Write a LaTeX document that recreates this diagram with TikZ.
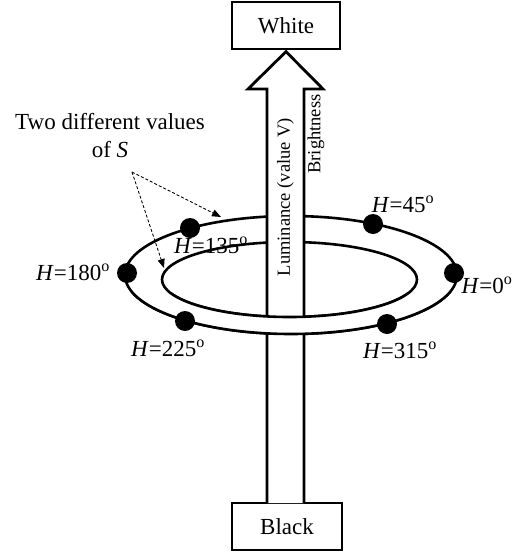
\documentclass[tikz,border=0pt]{standalone}
\usepackage{fontspec}
\setmainfont{Liberation Serif}
\usetikzlibrary{arrows.meta}
\begin{document}
\begin{tikzpicture}[x=1pt,y=-1pt,
  box/.style={draw, line width=1.3pt, minimum width=108pt, minimum height=47pt, inner sep=0pt, font=\fontsize{23}{27}\selectfont},
  lab/.style={font=\fontsize{23}{28}\selectfont, inner sep=0pt},
  vlab/.style={font=\fontsize{18.5}{22}\selectfont, inner sep=0pt, rotate=90},
  ring/.style={line width=2.6pt},
  dot/.style={circle, fill=black, minimum size=20pt, inner sep=0pt},
  shaft/.style={line width=2.8pt, line join=miter},
  dasharrow/.style={line width=0.9pt, dash pattern=on 3pt off 2pt, -{Triangle[length=9pt,width=7pt]}}
]
\useasboundingbox (0,0) rectangle (531,552);

% end boxes
\node[box] (white) at (286,25.5) {White};
\node[box, minimum width=110pt] (black) at (287,526.5) {Black};

% rings
\draw[ring] (291,275) ellipse [x radius=166pt, y radius=59pt];
\draw[ring] (289.5,279.5) ellipse [x radius=127.5pt, y radius=37.5pt];

% arrow shaft from Black to White
\filldraw[shaft, fill=white] (267,503) -- (267,89) -- (248,89) -- ([yshift=-2pt]white.south) -- (323,89) -- (304,89) -- (304,503);

% front (lower) half of the ring band, in front of the shaft
\begin{scope}
  \clip (100,292) rectangle (480,345);
  \fill[white, even odd rule] (291,275) ellipse [x radius=166pt, y radius=59pt]
        (289.5,279.5) ellipse [x radius=127.5pt, y radius=37.5pt];
  \draw[ring] (291,275) ellipse [x radius=166pt, y radius=59pt];
  \draw[ring] (289.5,279.5) ellipse [x radius=127.5pt, y radius=37.5pt];
\end{scope}

% texts on the shaft
\node[vlab] (lum) at (285.5,197) {Luminance (value V)};
\node[vlab] (bri) at (316,134) {Brightness};

% hue dots
\node[dot] (d0) at (454,273) {};
\node[dot] (d45) at (373,224) {};
\node[dot] (d135) at (190,228) {};
\node[dot] (d180) at (127,273) {};
\node[dot] (d225) at (185,321) {};
\node[dot] (d315) at (387,324) {};

% hue labels
\node[lab] (l0) at (487,285) {\textit{H}=0\textsuperscript{o}};
\node[lab] (l45) at (403,204) {\textit{H}=45\textsuperscript{o}};
\node[lab] (l135) at (211,245) {\textit{H}=135\textsuperscript{o}};
\node[lab] (l180) at (73,272) {\textit{H}=180\textsuperscript{o}};
\node[lab] (l225) at (168,348) {\textit{H}=225\textsuperscript{o}};
\node[lab] (l315) at (400,350) {\textit{H}=315\textsuperscript{o}};

% saturation note
\node[lab, align=center] (note) at (110,136) {Two different values\\of \textit{S}};
\coordinate (src) at (132,172);
\coordinate (outerpt) at (221,217);
\coordinate (innerpt) at (164,268);
\draw[dasharrow] (src) -- (outerpt);
\draw[dasharrow] (src) -- (innerpt);
\end{tikzpicture}
\end{document}
